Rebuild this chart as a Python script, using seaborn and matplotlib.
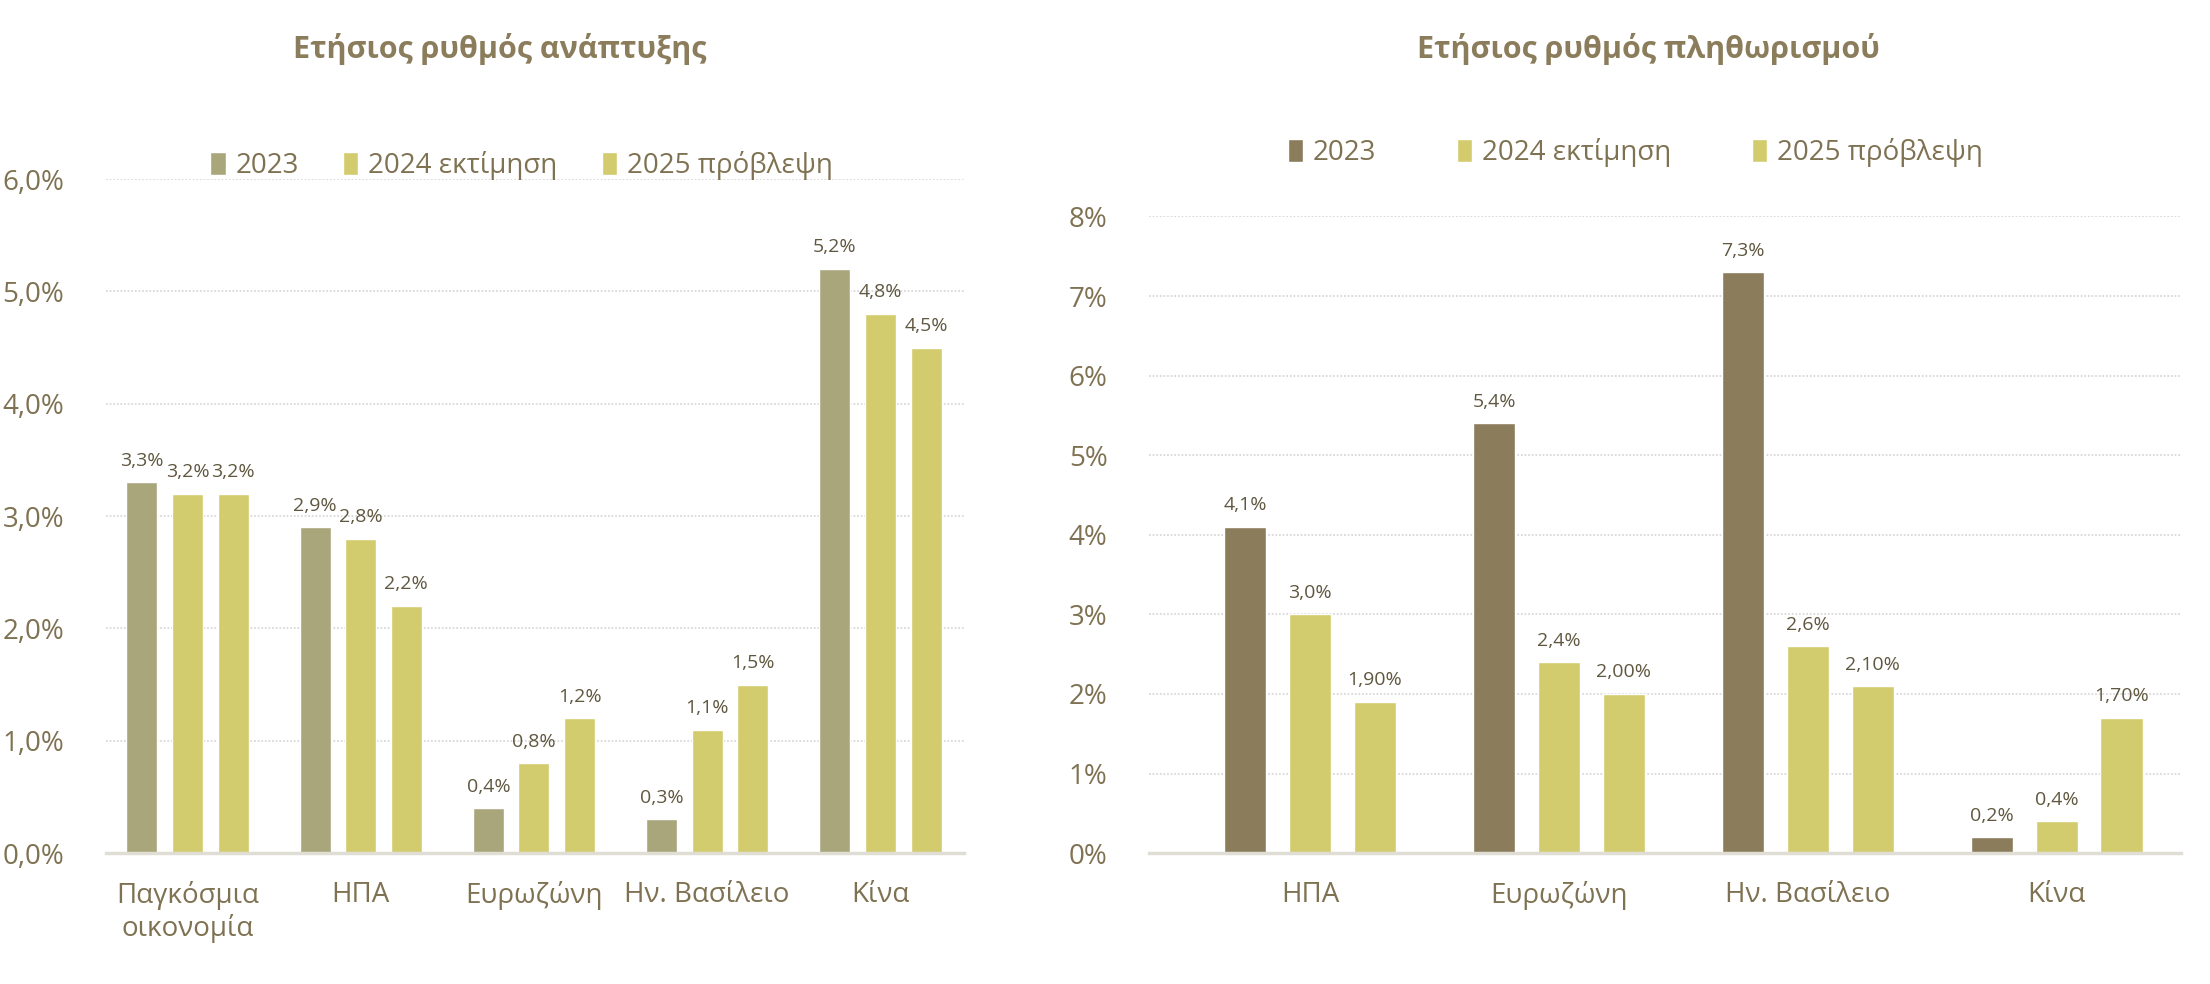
import numpy as np
import pandas as pd
import matplotlib.pyplot as plt
import seaborn as sns
from matplotlib.ticker import FuncFormatter

# --- data -------------------------------------------------------------
series_names = ['2023', '2024 εκτίμηση', '2025 πρόβλεψη']

growth_regions = ['Παγκόσμια\nοικονομία', 'ΗΠΑ', 'Ευρωζώνη', 'Ην. Βασίλειο', 'Κίνα']
growth_2023 = [3.3, 2.9, 0.4, 0.3, 5.2]
growth_2024 = [3.2, 2.8, 0.8, 1.1, 4.8]
growth_2025 = [3.2, 2.2, 1.2, 1.5, 4.5]
growth_decimals = [1, 1, 1]

infl_regions = ['ΗΠΑ', 'Ευρωζώνη', 'Ην. Βασίλειο', 'Κίνα']
infl_2023 = [4.1, 5.4, 7.3, 0.2]
infl_2024 = [3.0, 2.4, 2.6, 0.4]
infl_2025 = [1.9, 2.0, 2.1, 1.7]
infl_decimals = [1, 1, 2]

growth_title = 'Ετήσιος ρυθμός ανάπτυξης'
infl_title = 'Ετήσιος ρυθμός πληθωρισμού'

# --- style ------------------------------------------------------------
sns.set_style('white')
plt.rcParams['font.family'] = ['Open Sans', 'DejaVu Sans']

TXT = '#7F7252'
LBL = '#5F573F'
TITLE = '#8B7D5B'
GRID = '#D9D9D9'


def long_df(regions, cols):
    rows = []
    for name, vals in zip(series_names, cols):
        for r, v in zip(regions, vals):
            rows.append({'region': r, 'series': name, 'value': v})
    return pd.DataFrame(rows)


def pct(v, d):
    return f'{v:.{d}f}'.replace('.', ',') + '%'


def draw(ax, regions, cols, palette, decimals, ymax, tick_fmt, xlim, width, gap):
    df = long_df(regions, cols)
    sns.barplot(data=df, x='region', y='value', hue='series', order=regions,
                hue_order=series_names, palette=palette, errorbar=None,
                width=width, gap=gap, saturation=1, ax=ax)
    for cont, vals, d in zip(ax.containers, cols, decimals):
        ax.bar_label(cont, labels=[pct(v, d) for v in vals], padding=9,
                     fontsize=14, color=LBL)
    ax.set_ylim(0, ymax)
    ax.set_xlim(*xlim)
    ax.yaxis.set_major_formatter(FuncFormatter(tick_fmt))
    ax.grid(axis='y', color=GRID, linestyle=(0, (1, 1)), linewidth=1.3)
    ax.set_axisbelow(True)
    for s in ['top', 'right', 'left']:
        ax.spines[s].set_visible(False)
    ax.spines['bottom'].set_color('#E0DDD5')
    ax.spines['bottom'].set_linewidth(2.5)
    ax.tick_params(axis='both', length=0, labelsize=20, colors=TXT)
    ax.tick_params(axis='x', pad=20)
    ax.tick_params(axis='y', pad=30)
    ax.set_xlabel('')
    ax.set_ylabel('')
    handles, labels = ax.get_legend_handles_labels()
    ax.get_legend().remove()
    return handles, labels


fig = plt.figure(figsize=(22.1, 9.84), dpi=100)
ax1 = fig.add_axes([0.048, 0.133, 0.388, 0.685])
ax2 = fig.add_axes([0.520, 0.133, 0.467, 0.647])

h1, l1 = draw(ax1, growth_regions, [growth_2023, growth_2024, growth_2025],
              ['#A9A67C', '#D3CC6E', '#D3CC6E'], growth_decimals, 6,
              lambda v, p: f'{v:.1f}'.replace('.', ',') + '%',
              (-0.47, 4.48), 0.79, 0.32)
h2, l2 = draw(ax2, infl_regions, [infl_2023, infl_2024, infl_2025],
              ['#8B7D5C', '#D3CC6E', '#D3CC6E'], infl_decimals, 8,
              lambda v, p: f'{v:.0f}%',
              (-0.646, 3.5), 0.78, 0.35)

leg1 = ax1.legend(h1, l1, loc='center', bbox_to_anchor=(0.236, 0.832),
                  bbox_transform=fig.transFigure, ncol=3, frameon=False,
                  fontsize=20, handlelength=0.55, handleheight=0.9,
                  handletextpad=0.35, columnspacing=1.6)
leg2 = ax2.legend(h2, l2, loc='center', bbox_to_anchor=(0.740, 0.845),
                  bbox_transform=fig.transFigure, ncol=3, frameon=False,
                  fontsize=20, handlelength=0.55, handleheight=0.9,
                  handletextpad=0.35, columnspacing=2.9)
for leg in (leg1, leg2):
    for t in leg.get_texts():
        t.set_color(TXT)

fig.text(0.226, 0.950, growth_title, ha='center', va='center',
         fontsize=22, fontweight='bold', color=TITLE)
fig.text(0.746, 0.950, infl_title, ha='center', va='center',
         fontsize=22, fontweight='bold', color=TITLE)

fig.savefig('out.png', dpi=100, facecolor='white')
